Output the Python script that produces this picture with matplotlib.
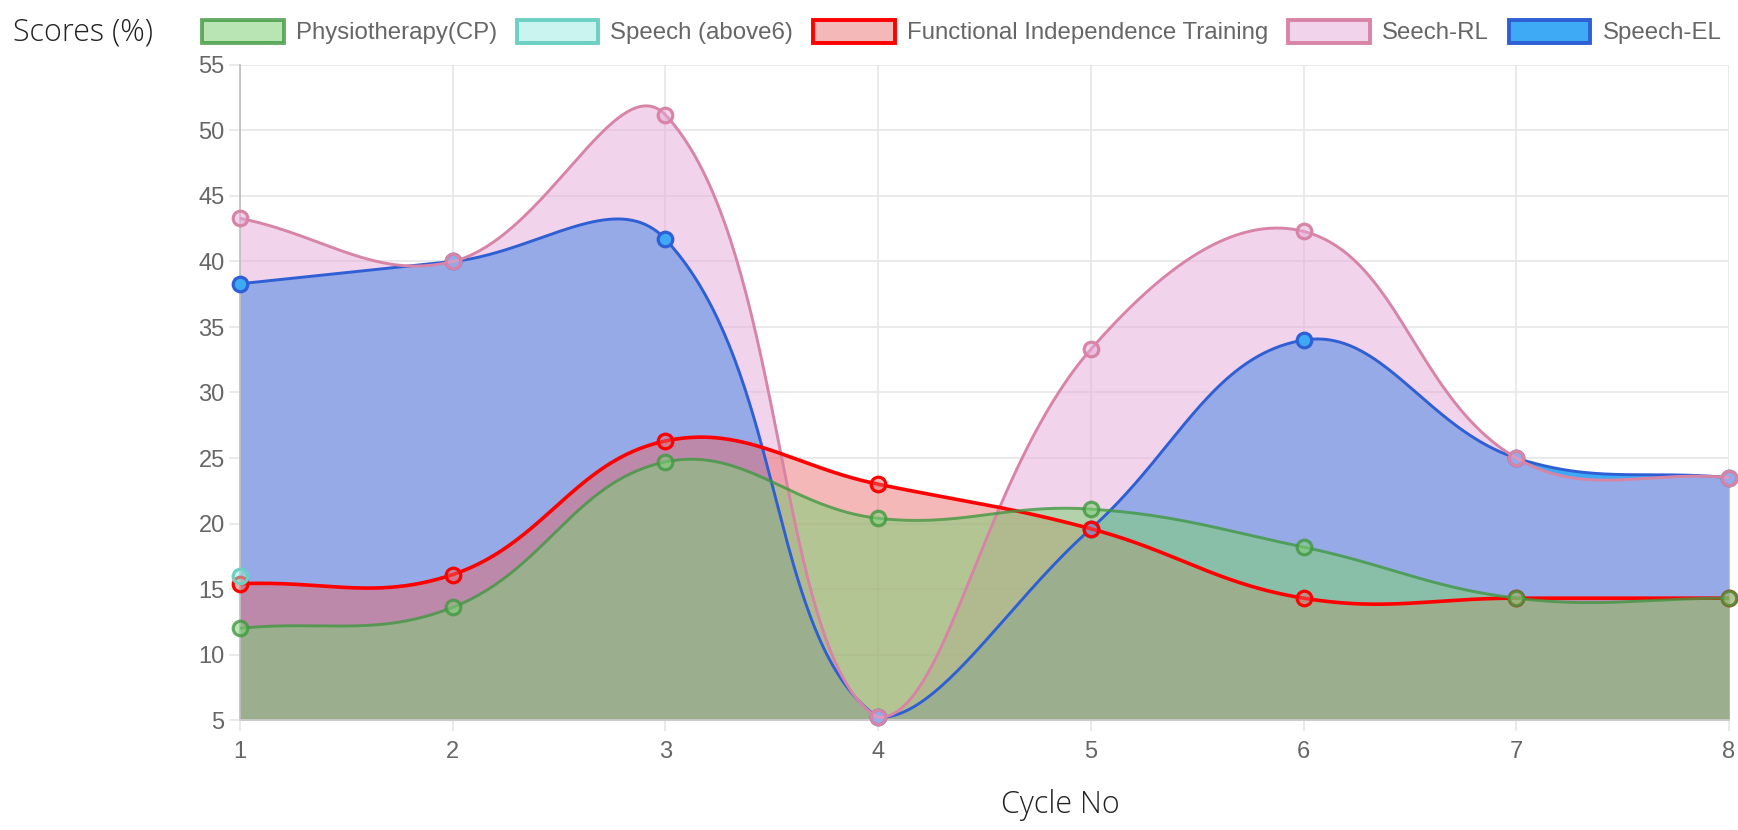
import numpy as np
import matplotlib
matplotlib.use("Agg")
import matplotlib.pyplot as plt
import matplotlib.patches as mpatches

# ---- data ----
cycles = [1, 2, 3, 4, 5, 6, 7, 8]
physio = [12.0, 13.6, 24.7, 20.4, 21.1, 18.2, 14.3, 14.3]
speech_above6 = [16.0, None, None, None, None, None, None, None]
fit = [15.4, 16.1, 26.3, 23.0, 19.6, 14.3, 14.3, 14.3]
speech_rl = [43.3, 40.0, 51.2, 5.2, 33.3, 42.3, 25.0, 23.5]
speech_el = [38.3, 40.0, 41.7, 5.2, 19.6, 34.0, 25.0, 23.5]

y_ticks = list(range(5, 56, 5))

# label, values, fill rgba, line color
SERIES = [
    ("Physiotherapy(CP)", physio, (128/255, 208/255, 120/255, 0.55), (0.25, 0.60, 0.25, 0.8)),
    ("Speech (above6)", speech_above6, (150/255, 235/255, 225/255, 0.5), "#6cd0c4"),
    ("Functional Independence Training", fit, (235/255, 100/255, 100/255, 0.46), "#ff0000"),
    ("Seech-RL", speech_rl, (230/255, 172/255, 218/255, 0.52), "#d884a6"),
    ("Speech-EL", speech_el, (62/255, 169/255, 245/255, 1.0), "#2f5fd4"),
]

W, H = 1738, 830
fig = plt.figure(figsize=(W / 100, H / 100), dpi=100)
ax = fig.add_axes([240 / W, 1 - 720 / H, 1489 / W, 655 / H])
ax.set_xlim(1, 8)
ax.set_ylim(5, 55)


def spline(xs, ys, tension=0.4):
    """Chart.js style bezier through points, control points computed in pixel space."""
    pts = ax.transData.transform(np.column_stack([xs, ys]))
    n = len(pts)
    cp_in, cp_out = [], []
    x0, y0 = ax.transData.transform((1, 5))
    x1, y1 = ax.transData.transform((8, 55))
    for i in range(n):
        prev = pts[max(i - 1, 0)]
        cur = pts[i]
        nxt = pts[min(i + 1, n - 1)]
        d01 = np.hypot(*(cur - prev))
        d12 = np.hypot(*(nxt - cur))
        tot = d01 + d12
        s01 = d01 / tot if tot else 0
        s12 = d12 / tot if tot else 0
        a = cur - tension * s01 * (nxt - prev)
        b = cur + tension * s12 * (nxt - prev)
        a = np.array([np.clip(a[0], x0, x1), np.clip(a[1], y0, y1)])
        b = np.array([np.clip(b[0], x0, x1), np.clip(b[1], y0, y1)])
        cp_in.append(a)
        cp_out.append(b)
    out = []
    t = np.linspace(0, 1, 80)[:, None]
    for i in range(n - 1):
        p0, p1, p2, p3 = pts[i], cp_out[i], cp_in[i + 1], pts[i + 1]
        seg = ((1 - t) ** 3) * p0 + 3 * ((1 - t) ** 2) * t * p1 + 3 * (1 - t) * t ** 2 * p2 + t ** 3 * p3
        out.append(seg if i == 0 else seg[1:])
    seg = np.vstack(out)
    d = ax.transData.inverted().transform(seg)
    return d[:, 0], d[:, 1]


# fills first (last dataset drawn at the bottom), then lines & points
order = list(reversed(SERIES))
curves = {}
for k, (label, vals, fc, lc) in enumerate(order):
    xs = [c for c, v in zip(cycles, vals) if v is not None]
    ys = [v for v in vals if v is not None]
    if len(xs) > 1:
        cx, cy = spline(xs, ys)
        curves[label] = (cx, cy)
        ax.fill_between(cx, cy, 5, color=fc, linewidth=0, zorder=1 + k * 0.1)

for k, (label, vals, fc, lc) in enumerate(order):
    xs = [c for c, v in zip(cycles, vals) if v is not None]
    ys = [v for v in vals if v is not None]
    lw = 2.6 if label.startswith("Functional") else 2.1
    if label in curves:
        cx, cy = curves[label]
        ax.plot(cx, cy, color=lc, lw=lw, zorder=3 + k, solid_capstyle="round")
    ax.plot(xs, ys, ls="none", marker="o", ms=10.5, mew=2.3, mfc=fc, mec=lc,
            zorder=3.5 + k, clip_on=False)

# axes styling, Chart.js look
grid_c = "#e6e6e6"
ax.set_xticks(cycles)
ax.set_yticks(y_ticks)
ax.grid(True, color=grid_c, lw=1.2, zorder=0)
ax.set_axisbelow(True)
for s in ["top", "right"]:
    ax.spines[s].set_visible(False)
ax.spines["left"].set_color("#bdbdbd")
ax.spines["bottom"].set_color("#d0d0d0")
ax.spines["left"].set_linewidth(1.2)
ax.spines["bottom"].set_linewidth(1.2)
ax.tick_params(axis="both", colors=grid_c, length=8, width=1.2,
               labelcolor="#666666", labelsize=17)
ax.tick_params(axis="y", pad=3)
ax.tick_params(axis="x", pad=7)
for lab in ax.get_xticklabels() + ax.get_yticklabels():
    lab.set_fontfamily(["Liberation Sans", "DejaVu Sans"])

fig.text(13 / W, 1 - 33 / H, "Scores (%)", fontsize=22, fontfamily=["Open Sans", "DejaVu Sans"],
         fontweight="light", color="#222222", ha="left", va="center")
fig.text(1060 / W, 1 - 805 / H, "Cycle No", fontsize=22, fontfamily=["Open Sans", "DejaVu Sans"],
         fontweight="light", color="#222222", ha="center", va="center")

handles = [mpatches.Patch(facecolor=fc, edgecolor=lc, linewidth=2.8, label=label)
           for label, vals, fc, lc in SERIES]
fig.legend(handles=handles, loc="center left", bbox_to_anchor=(202 / W, 1 - 32 / H),
           ncol=5, frameon=False, borderpad=0, borderaxespad=0,
           handlelength=3.4, handleheight=1.1, handletextpad=0.5, columnspacing=0.83,
           prop={"family": ["Liberation Sans", "DejaVu Sans"], "size": 17.3}, labelcolor="#666666")

fig.savefig("out.png", dpi=100)
